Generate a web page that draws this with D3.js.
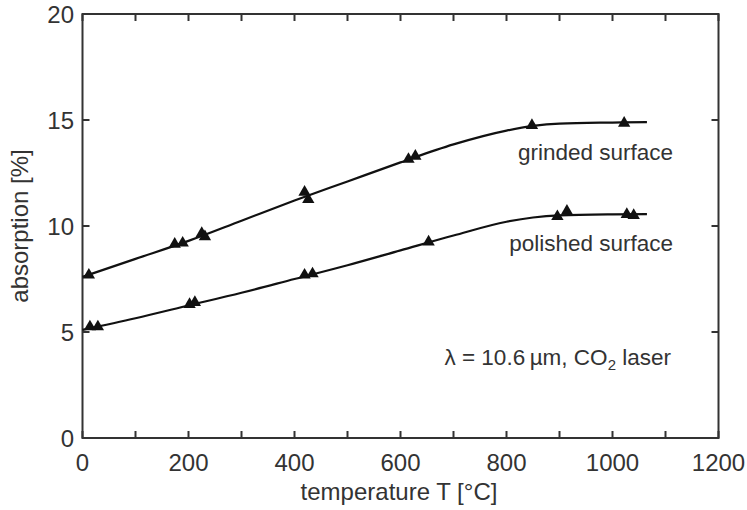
<!DOCTYPE html>
<html>
<head>
<meta charset="utf-8">
<script src="https://cdnjs.cloudflare.com/ajax/libs/d3/7.8.5/d3.min.js"></script>
<style>
  body { margin: 0; background: #fff; }
  text { font-family: "Liberation Sans", Arial, sans-serif; fill: #333; }
</style>
</head>
<body>
<div id="chart"></div>
<script>
// Measured points (temperature °C, absorption %)
var grindedT = [12, 174, 189, 225, 231, 419, 426, 615, 628, 848, 1022];
var grindedA = [7.64, 9.1, 9.15, 9.6, 9.45, 11.55, 11.2, 13.1, 13.25, 14.7, 14.8];
var polishedT = [14, 29, 202, 212, 419, 434, 653, 896, 914, 1027, 1040];
var polishedA = [5.2, 5.2, 6.25, 6.35, 7.64, 7.7, 9.2, 10.4, 10.65, 10.5, 10.45];

// Fitted curves
var curveT = [0, 100, 200, 300, 400, 500, 600, 700, 800, 850, 900, 1000, 1065];
var grindedFit = [7.6, 8.45, 9.3, 10.25, 11.2, 12.1, 13.0, 13.85, 14.5, 14.72, 14.83, 14.88, 14.9];
var polishedFit = [5.1, 5.65, 6.25, 6.85, 7.5, 8.15, 8.85, 9.55, 10.2, 10.4, 10.5, 10.55, 10.56];

var xTicks = [0, 200, 400, 600, 800, 1000, 1200];
var xMinor = d3.range(0, 1201, 100);
var yTicks = [0, 5, 10, 15, 20];

async function init() {
  var w = 747;
  var h = 510;
  var left = 82.5, right = 718.5, top = 14, bottom = 438;

  var svg = d3.select('#chart').append('svg').attr('width', w).attr('height', h);

  var x = d3.scaleLinear().domain([0, 1200]).range([left, right]);
  var y = d3.scaleLinear().domain([0, 20]).range([bottom, top]);

  var tickLen = 7;
  var frame = svg.append('g').attr('stroke', '#333').attr('stroke-width', 2);

  // Ticks (inward) on all four sides
  xMinor.forEach(function (t) {
    frame.append('line').attr('x1', x(t)).attr('x2', x(t)).attr('y1', bottom).attr('y2', bottom - tickLen);
    frame.append('line').attr('x1', x(t)).attr('x2', x(t)).attr('y1', top).attr('y2', top + tickLen);
  });
  yTicks.forEach(function (t) {
    frame.append('line').attr('x1', left).attr('x2', left + tickLen).attr('y1', y(t)).attr('y2', y(t));
    frame.append('line').attr('x1', right).attr('x2', right - tickLen).attr('y1', y(t)).attr('y2', y(t));
  });

  // Frame
  frame.append('rect')
    .attr('x', left).attr('y', top)
    .attr('width', right - left).attr('height', bottom - top)
    .attr('fill', 'none');

  // Tick labels
  svg.selectAll('.xl').data(xTicks).enter().append('text')
    .attr('x', function (d) { return x(d); })
    .attr('y', 471)
    .attr('text-anchor', 'middle')
    .style('font-size', '24px')
    .text(function (d) { return d; });

  svg.selectAll('.yl').data(yTicks).enter().append('text')
    .attr('x', 74)
    .attr('y', function (d) { return y(d) + 9; })
    .attr('text-anchor', 'end')
    .style('font-size', '24px')
    .text(function (d) { return d; });

  // Axis titles
  svg.append('text')
    .attr('x', 399).attr('y', 500)
    .attr('text-anchor', 'middle')
    .style('font-size', '24px')
    .text('temperature T [°C]');

  svg.append('text')
    .attr('transform', 'translate(28,' + y(10) + ') rotate(-90)')
    .attr('text-anchor', 'middle')
    .style('font-size', '24px')
    .text('absorption [%]');

  // Curves
  var line = d3.line()
    .x(function (d) { return x(d[0]); })
    .y(function (d) { return y(d[1]); })
    .curve(d3.curveMonotoneX);

  [grindedFit, polishedFit].forEach(function (fit) {
    svg.append('path')
      .datum(curveT.map(function (t, i) { return [t, fit[i]]; }))
      .attr('fill', 'none')
      .attr('stroke', '#111')
      .attr('stroke-width', 2.2)
      .attr('d', line);
  });

  // Markers
  var tri = d3.symbol().type(d3.symbolTriangle).size(66);
  [[grindedT, grindedA], [polishedT, polishedA]].forEach(function (s) {
    svg.append('g').selectAll('path')
      .data(s[0].map(function (t, i) { return [t, s[1][i]]; }))
      .enter().append('path')
      .attr('d', tri)
      .attr('fill', '#111')
      .attr('transform', function (d) { return 'translate(' + x(d[0]) + ',' + (y(d[1]) - 1) + ')'; });
  });

  // Annotations
  svg.append('text').attr('x', 673).attr('y', 160).attr('text-anchor', 'end')
    .style('font-size', '22.5px').text('grinded surface');
  svg.append('text').attr('x', 673).attr('y', 251).attr('text-anchor', 'end')
    .style('font-size', '22.5px').text('polished surface');

  var lam = svg.append('text').attr('x', 671).attr('y', 365).attr('text-anchor', 'end')
    .style('font-size', '22.5px');
  lam.append('tspan').text('λ = 10.6\u2009µm, CO');
  lam.append('tspan').attr('dy', 5).style('font-size', '15px').text('2');
  lam.append('tspan').attr('dy', -5).text(' laser');
}

window.onload = init;
</script>
</body>
</html>
